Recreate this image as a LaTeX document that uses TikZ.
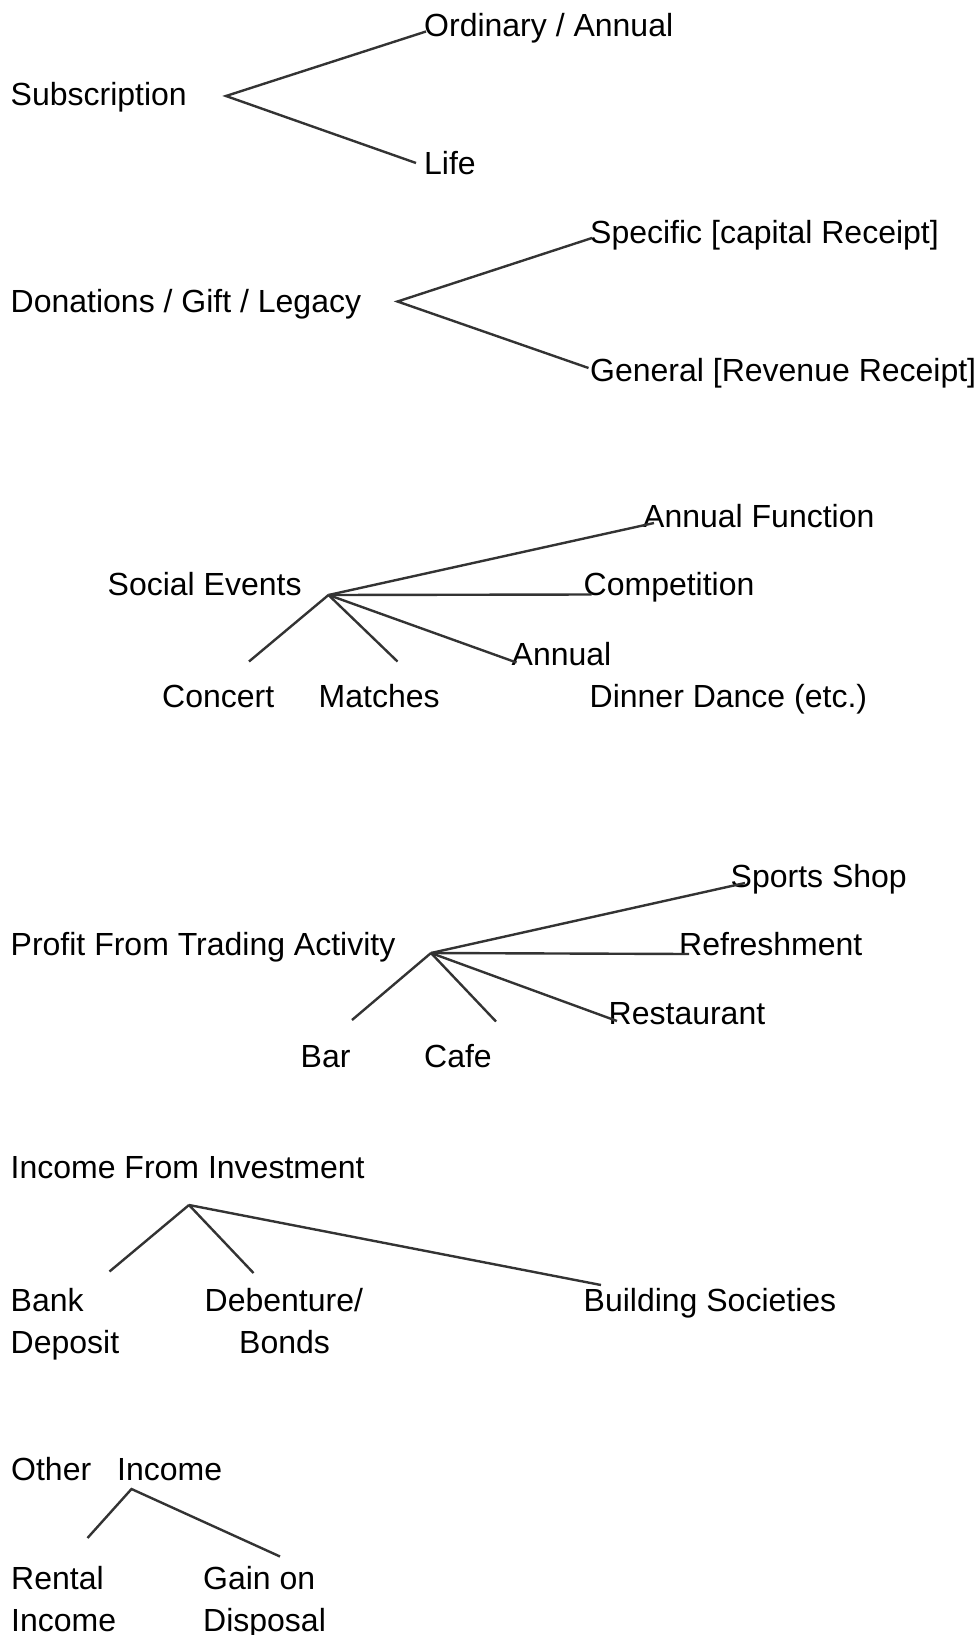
\documentclass[tikz,border=0pt]{standalone}
\usepackage{fontspec}
\setmainfont{Liberation Sans}
\definecolor{linegray}{HTML}{333333}
\begin{document}
\begin{tikzpicture}[x=1pt,y=-1pt,
  lbl/.style={anchor=base west,inner sep=0pt,font=\fontsize{32}{38}\selectfont},
  conn/.style={draw=linegray,line width=2.4pt}]
\useasboundingbox (0,0) rectangle (977,1635);
% ---------- texts ----------
\node[lbl] (sub) at (10.5,106) {Subscription};
\node[lbl] (ord) at (424,37) {Ordinary / Annual};
\node[lbl] (life) at (424,174) {Life};
\node[lbl] (don) at (10.5,312) {Donations / Gift / Legacy};
\node[lbl] (spec) at (590,243) {Specific [capital Receipt]};
\node[lbl] (gen) at (590,381) {General [Revenue Receipt]};
\node[lbl] (af) at (643,527) {Annual Function};
\node[lbl] (soc) at (107.5,595) {Social Events};
\node[lbl] (comp) at (583.5,595) {Competition};
\node[lbl] (ann) at (511.5,665) {Annual};
\node[lbl] (conc) at (162,707) {Concert};
\node[lbl] (mat) at (318.5,707) {Matches};
\node[lbl] (dd) at (589.5,707) {Dinner Dance (etc.)};
\node[lbl] (sport) at (730.5,887) {Sports Shop};
\node[lbl] (pft) at (10.5,955) {Profit From Trading Activity};
\node[lbl] (ref) at (679,955) {Refreshment};
\node[lbl] (rest) at (608.5,1024) {Restaurant};
\node[lbl] (bar) at (300.5,1067) {Bar};
\node[lbl] (cafe) at (424,1067) {Cafe};
\node[lbl] (inv) at (10.5,1178.5) {Income From Investment};
\node[lbl] (bank) at (10.5,1311.5) {Bank};
\node[lbl] (dep) at (10.5,1353) {Deposit};
\node[lbl] (deb) at (204.5,1311.5) {Debenture/};
\node[lbl] (bonds) at (239,1353) {Bonds};
\node[lbl] (build) at (583.5,1311.5) {Building Societies};
\node[lbl] (oth) at (11,1480) {Other\hspace{17pt} Income};
\node[lbl] (rent) at (11,1589.5) {Rental};
\node[lbl] (rinc) at (11,1631) {Income};
\node[lbl] (gain) at (203,1589.5) {Gain on};
\node[lbl] (disp) at (203,1631) {Disposal};
% ---------- junctions and line ends ----------
\coordinate (v1) at (226,96);
\coordinate (e11) at (426,31.5);
\coordinate (e12) at (416,163);
\coordinate (v2) at (397.5,301.5);
\coordinate (e21) at (592,238);
\coordinate (e22) at (588.5,368);
\coordinate (v3) at (328.5,595);
\coordinate (e31) at (654,523);
\coordinate (e32) at (591.5,594.5);
\coordinate (e33) at (516.5,662.5);
\coordinate (e34) at (249,661.5);
\coordinate (e35) at (397.5,661.5);
\coordinate (v4) at (431,953);
\coordinate (e41) at (745,883);
\coordinate (e42) at (689,954);
\coordinate (e43) at (617,1021);
\coordinate (e44) at (352,1020);
\coordinate (e45) at (496,1021.5);
\coordinate (v5) at (189,1205);
\coordinate (e51) at (109.5,1271.5);
\coordinate (e52) at (253.5,1273);
\coordinate (e53) at (601,1285);
\coordinate (v6) at (131.5,1489);
\coordinate (e61) at (87.5,1538);
\coordinate (e62) at (280,1556.5);
% ---------- connectors ----------
\draw[conn] (e11) -- (v1) -- (e12);
\draw[conn] (e21) -- (v2) -- (e22);
\draw[conn] (v3) -- (e31);
\draw[conn] (v3) -- (e32);
\draw[conn] (v3) -- (e33);
\draw[conn] (v3) -- (e34);
\draw[conn] (v3) -- (e35);
\draw[conn] (v4) -- (e41);
\draw[conn] (v4) -- (e42);
\draw[conn] (v4) -- (e43);
\draw[conn] (v4) -- (e44);
\draw[conn] (v4) -- (e45);
\draw[conn] (v5) -- (e51);
\draw[conn] (v5) -- (e52);
\draw[conn] (v5) -- (e53);
\draw[conn] (e61) -- (v6) -- (e62);
\end{tikzpicture}
\end{document}
